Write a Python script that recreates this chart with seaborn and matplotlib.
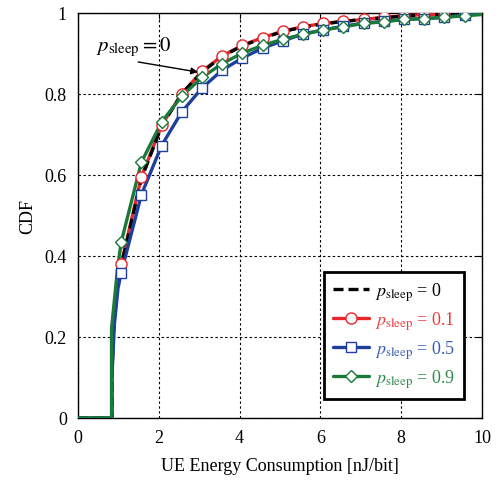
import matplotlib
matplotlib.use("Agg")
import matplotlib.pyplot as plt
from matplotlib.lines import Line2D
import seaborn as sns
import pandas as pd

sns.set_theme(style="white")
plt.rcParams['font.family'] = ['Liberation Serif', 'DejaVu Serif']
plt.rcParams['mathtext.fontset'] = 'stix'

# ---- data ----
marker_x = [1.07, 1.57, 2.07, 2.57, 3.07, 3.57, 4.07, 4.57, 5.07, 5.57,
            6.07, 6.57, 7.07, 7.57, 8.07, 8.57, 9.07, 9.57]

p0_x = [0, 0.84, 0.84, 0.87, 0.91, 0.98] + marker_x + [10]
p0_y = [0, 0, 0.11, 0.20, 0.27, 0.33,
        0.375, 0.59, 0.72, 0.80, 0.853, 0.892, 0.918, 0.937, 0.953, 0.964,
        0.972, 0.978, 0.983, 0.987, 0.991, 0.994, 0.996, 0.998, 1.0]

p01_x = [0, 0.84, 0.84, 0.87, 0.91, 0.98] + marker_x + [10]
p01_y = [0, 0, 0.11, 0.20, 0.27, 0.33,
         0.38, 0.595, 0.722, 0.80, 0.855, 0.893, 0.919, 0.938, 0.954, 0.965,
         0.973, 0.978, 0.983, 0.988, 0.992, 0.995, 0.996, 0.999, 1.0]

p05_x = [0, 0.84, 0.84, 0.90, 0.99] + marker_x + [10]
p05_y = [0, 0, 0.10, 0.23, 0.32,
         0.358, 0.551, 0.672, 0.755, 0.814, 0.858, 0.888, 0.912, 0.930, 0.947,
         0.957, 0.966, 0.974, 0.978, 0.983, 0.985, 0.988, 0.994, 0.996]

p09_x = [0, 0.83, 0.83, 0.91, 0.98] + marker_x + [10]
p09_y = [0, 0, 0.22, 0.30, 0.37,
         0.434, 0.631, 0.730, 0.794, 0.840, 0.874, 0.900, 0.919, 0.934, 0.946,
         0.957, 0.965, 0.973, 0.977, 0.983, 0.985, 0.988, 0.992, 0.995]

labels = [r'$p_{\mathrm{sleep}}$ = 0', r'$p_{\mathrm{sleep}}$ = 0.1',
          r'$p_{\mathrm{sleep}}$ = 0.5', r'$p_{\mathrm{sleep}}$ = 0.9']
colors = ['black', '#e8262a', '#1f3f9f', '#1a7a3a']
text_colors = ['black', '#ee3b3b', '#3a5bb5', '#2e8b4a']

x_ticks = [0, 2, 4, 6, 8, 10]
y_ticks = [0, 0.2, 0.4, 0.6, 0.8, 1.0]
y_ticklabels = ['0', '0.2', '0.4', '0.6', '0.8', '1']

fig = plt.figure(figsize=(4.99, 4.85), dpi=100)
ax = fig.add_axes([78/499, 66/485, 404/499, 405.5/485])

series = [(p0_x, p0_y, None, 6), (p01_x, p01_y, 'o', 6),
          (p05_x, p05_y, 's', 5), (p09_x, p09_y, 'D', 5)]
line_z = [4, 3, 5, 6]
msizes = {'o': 8, 's': 7.5, 'D': 6.5}
handles = []
for i, (xs, ys, mk, start) in enumerate(series):
    df = pd.DataFrame({'x': xs, 'y': ys})
    ls = (0, (3.0, 1.5)) if mk is None else '-'
    sns.lineplot(data=df, x='x', y='y', ax=ax, estimator=None, sort=False,
                 color=colors[i], linewidth=2.4, linestyle=ls, zorder=line_z[i])
    h_kw = dict(color=colors[i], linewidth=2.4, linestyle=ls)
    if mk is not None:
        mdf = df.iloc[start:start + len(marker_x)]
        sns.lineplot(data=mdf, x='x', y='y', ax=ax, estimator=None, sort=False,
                     linestyle='', marker=mk, markersize=msizes[mk],
                     markerfacecolor='white', markeredgecolor=colors[i],
                     markeredgewidth=1.0, zorder=7 + i)
        h_kw.update(marker=mk, markersize=msizes[mk], markerfacecolor='white',
                    markeredgecolor=colors[i], markeredgewidth=1.0)
    handles.append(Line2D([], [], **h_kw))

ax.set_xlim(0, 10)
ax.set_ylim(0, 1)
ax.set_xticks(x_ticks)
ax.set_yticks(y_ticks)
ax.set_yticklabels(y_ticklabels)
ax.tick_params(direction='in', length=4, width=0.8, colors='black',
               labelsize=13, top=True, right=True, pad=8)
ax.grid(True, color='black', linestyle=(0, (2.2, 2.2)), linewidth=0.8)
for s in ax.spines.values():
    s.set_color('black')
    s.set_linewidth(1.0)
ax.set_xlabel('UE Energy Consumption [nJ/bit]', fontsize=13, color='black', labelpad=8)
ax.set_ylabel('CDF', fontsize=13, color='black', labelpad=6)

ax.text(0.45, 0.917, r'$p_{\mathrm{sleep}} = 0$', fontsize=15, color='black',
        va='center', ha='left', zorder=10)
ax.annotate('', xy=(2.97, 0.853), xytext=(1.49, 0.878),
            arrowprops=dict(arrowstyle='-|>', color='black', lw=1.0,
                            mutation_scale=10, shrinkA=0, shrinkB=0),
            zorder=10)

leg = ax.legend(handles, labels, loc='lower right', bbox_to_anchor=(0.955, 0.047),
                fontsize=13, frameon=True, fancybox=False, framealpha=1,
                edgecolor='black', handlelength=2.0, handletextpad=0.3,
                borderpad=0.5, labelspacing=0.35, borderaxespad=0)
leg.get_frame().set_linewidth(2.0)
leg.set_zorder(20)
for t, c in zip(leg.get_texts(), text_colors):
    t.set_color(c)

fig.savefig('out.png', dpi=100, facecolor='white')
